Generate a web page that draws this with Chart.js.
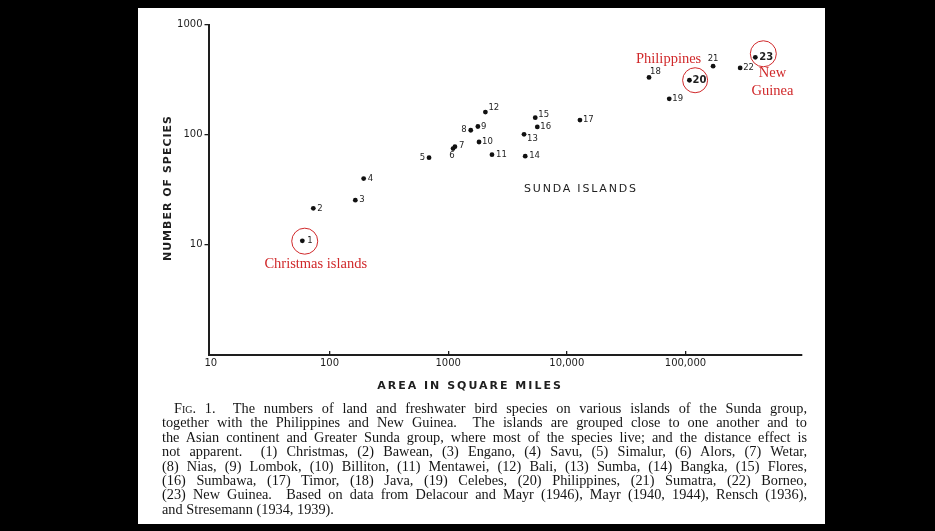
<!DOCTYPE html>
<html>
<head>
<meta charset="utf-8">
<script src="https://cdn.jsdelivr.net/npm/chart.js@4.4.1/dist/chart.umd.min.js"></script>
<style>
  html, body { margin: 0; padding: 0; background: #000; width: 935px; height: 531px; overflow: hidden; }
  #panel { position: absolute; left: 138px; top: 8px; width: 687px; height: 516px; background: #fff; }
  #chart { position: absolute; left: 0; top: 0; }
  #caption { position: absolute; left: 162px; top: 401px; width: 645px; font-family: "Liberation Serif", serif; font-size: 14.3px; line-height: 14.4px; color: #151515; }
  #caption div { white-space: nowrap; text-align: justify; text-align-last: justify; }
  #caption div.first { text-indent: 12px; }
  #caption div.last { text-align-last: left; }
  .sc { font-variant: small-caps; }
</style>
</head>
<body>
<div id="panel"></div>
<canvas id="chart" width="935" height="531"></canvas>
<div id="caption">
  <div class="first"><span class="sc">Fig.</span> 1.&nbsp; The numbers of land and freshwater bird species on various islands of the Sunda group,</div>
  <div>together with the Philippines and New Guinea.&nbsp; The islands are grouped close to one another and to</div>
  <div>the Asian continent and Greater Sunda group, where most of the species live; and the distance effect is</div>
  <div>not apparent.&nbsp; (1) Christmas, (2) Bawean, (3) Engano, (4) Savu, (5) Simalur, (6) Alors, (7) Wetar,</div>
  <div>(8) Nias, (9) Lombok, (10) Billiton, (11) Mentawei, (12) Bali, (13) Sumba, (14) Bangka, (15) Flores,</div>
  <div>(16) Sumbawa, (17) Timor, (18) Java, (19) Celebes, (20) Philippines, (21) Sumatra, (22) Borneo,</div>
  <div>(23) New Guinea.&nbsp; Based on data from Delacour and Mayr (1946), Mayr (1940, 1944), Rensch (1936),</div>
  <div class="last">and Stresemann (1934, 1939).</div>
</div>
<script>
// island numbers, area (square miles) and number of bird species
const islandNumbers = ['1', '2', '3', '4', '5', '6', '7', '8', '9', '10', '11', '12',
                       '13', '14', '15', '16', '17', '18', '19', '20', '21', '22', '23'];
const areas = [59, 73, 165, 194, 690, 1100, 1140, 1550, 1780, 1820, 2340, 2060,
               4360, 4460, 5420, 5640, 12900, 49300, 73000, 108000, 171000, 289000, 388000];
const species = [10.9, 21.5, 25.5, 40, 62, 75, 78, 110, 119, 86, 66, 161,
                 101, 64, 143, 118, 136, 332, 212, 313, 420, 405, 505];

const xTickValues = [10, 100, 1000, 10000, 100000];
const xTickLabels = ['10', '100', '1000', '10,000', '100,000'];
const yTickValues = [10, 100, 1000];
const yTickLabels = ['10', '100', '1000'];

const circledIslands = ['1', '20', '23'];
const xTitle = 'AREA IN SQUARE MILES';
const yTitle = 'NUMBER OF SPECIES';
const groupLabel = 'SUNDA ISLANDS';

// label placement next to each dot: [dx, dy, align]
const labelPlacement = [
    [5, 0, 'left'], [4, 0, 'left'], [4, 0, 'left'], [4, 0, 'left'], [-4, 0, 'right'],
    [-1, 7, 'center'], [4, -1, 'left'], [-4, 0, 'right'], [3, 0, 'left'], [3, 0, 'left'],
    [4, 0, 'left'], [3, -4, 'left'], [3, 4, 'left'], [4, 0, 'left'], [3, -3, 'left'],
    [3, 0, 'left'], [3, 0, 'left'], [1, -6, 'left'], [3, 0, 'left'], [3, 0, 'left'],
    [0, -7, 'center'], [3, 0, 'left'], [4, 0, 'left']
];
const circleOffsets = { '1': [2.4, 0.4, 13], '20': [5.7, 0, 12.5], '23': [8, -3.6, 13] };
const redNotes = [
    { island: '1', lines: ['Christmas islands'], dx: 13.4, dy: 23.7 },
    { island: '20', lines: ['Philippines'], dx: -20.8, dy: -20.7 },
    { island: '23', lines: ['New', 'Guinea'], dx: 17.2, dy: 15.4 }
];

const ink = '#1e1e1e';
const red = '#d0282a';

const points = areas.map((a, i) => ({ x: a, y: species[i] }));

const annotations = {
    id: 'annotations',
    afterDatasetsDraw(chart) {
        const { ctx, scales: { x, y } } = chart;
        ctx.save();
        ctx.fillStyle = ink;
        ctx.textBaseline = 'middle';

        islandNumbers.forEach((num, i) => {
            const px = x.getPixelForValue(areas[i]);
            const py = y.getPixelForValue(species[i]);
            const [dx, dy, align] = labelPlacement[i];
            const big = circledIslands.includes(num) && num !== '1';
            ctx.font = big ? 'bold 10px "DejaVu Sans"' : '8.5px "DejaVu Sans"';
            ctx.textAlign = align;
            ctx.fillText(num, px + dx, py + dy);
        });

        // red circles and notes
        ctx.strokeStyle = red;
        ctx.lineWidth = 1;
        circledIslands.forEach(num => {
            const i = islandNumbers.indexOf(num);
            const [ox, oy, r] = circleOffsets[num];
            ctx.beginPath();
            ctx.arc(x.getPixelForValue(areas[i]) + ox, y.getPixelForValue(species[i]) + oy, r, 0, Math.PI * 2);
            ctx.stroke();
        });
        ctx.fillStyle = red;
        ctx.font = '14.5px "Liberation Serif"';
        ctx.textAlign = 'center';
        redNotes.forEach(note => {
            const i = islandNumbers.indexOf(note.island);
            const px = x.getPixelForValue(areas[i]) + note.dx;
            const py = y.getPixelForValue(species[i]) + note.dy;
            note.lines.forEach((line, k) => ctx.fillText(line, px, py + k * 18.3));
        });

        // titles
        ctx.fillStyle = ink;
        ctx.font = 'bold 11px "DejaVu Sans"';
        ctx.letterSpacing = '2px';
        ctx.fillText(xTitle, 470, 386);
        ctx.save();
        ctx.translate(168, 188);
        ctx.rotate(-Math.PI / 2);
        ctx.letterSpacing = '1px';
        ctx.fillText(yTitle, 0, 0);
        ctx.restore();
        ctx.font = '11px "DejaVu Sans"';
        ctx.letterSpacing = '1.8px';
        ctx.textAlign = 'left';
        ctx.fillText(groupLabel, 524, 189);
        ctx.restore();
    }
};

new Chart(document.getElementById('chart'), {
    type: 'scatter',
    data: {
        datasets: [{
            data: points,
            pointRadius: 2.4,
            pointBackgroundColor: '#111',
            pointBorderWidth: 0
        }]
    },
    options: {
        responsive: false,
        animation: false,
        events: [],
        layout: { padding: { left: 150, right: 133, top: 24.7, bottom: 100 } },
        plugins: { legend: { display: false }, tooltip: { enabled: false } },
        scales: {
            x: {
                type: 'logarithmic',
                bounds: 'data',
                min: 9.55,
                max: 960000,
                afterFit: s => { s.height = 76; },
                afterBuildTicks: s => { s.ticks = xTickValues.map(v => ({ value: v })); },
                border: { display: true, color: ink, width: 2 },
                grid: {
                    drawOnChartArea: false,
                    tickLength: -4,
                    lineWidth: 1.3,
                    color: c => (c.tick && c.tick.value === 10) ? 'rgba(0,0,0,0)' : ink
                },
                ticks: {
                    autoSkip: false,
                    maxRotation: 0,
                    padding: 6,
                    color: ink,
                    font: { family: 'DejaVu Sans', size: 10 },
                    callback: v => xTickLabels[xTickValues.indexOf(v)]
                }
            },
            y: {
                type: 'logarithmic',
                bounds: 'data',
                min: 1,
                max: 1000,
                afterFit: s => { s.width = 58.5; },
                afterBuildTicks: s => { s.ticks = yTickValues.map(v => ({ value: v })); },
                border: { display: true, color: ink, width: 2 },
                grid: { drawOnChartArea: false, tickLength: 4, lineWidth: 1.3, color: ink },
                ticks: {
                    autoSkip: false,
                    padding: 2,
                    color: ink,
                    font: { family: 'DejaVu Sans', size: 10 },
                    callback: v => yTickLabels[yTickValues.indexOf(v)]
                }
            }
        }
    },
    plugins: [annotations]
});
</script>
</body>
</html>
